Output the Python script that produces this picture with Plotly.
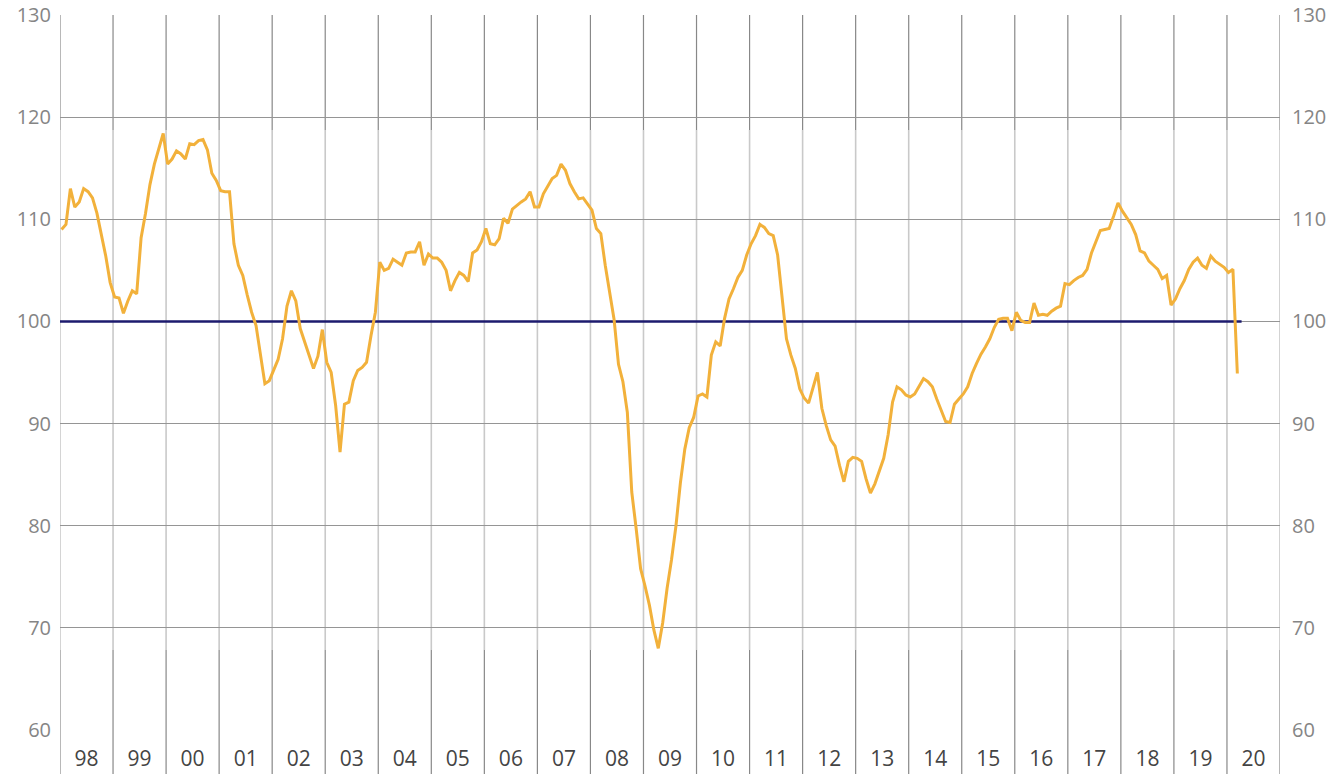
import plotly.graph_objects as go

# ---- data -------------------------------------------------------------
first_year = 1998
year_labels = ["98", "99", "00", "01", "02", "03", "04", "05", "06", "07", "08",
               "09", "10", "11", "12", "13", "14", "15", "16", "17", "18", "19", "20"]

v1998 = [109.0, 109.5, 113.0, 111.2, 111.7, 113.0, 112.7, 112.1, 110.6, 108.6, 106.4, 103.8]
v1999 = [102.4, 102.3, 100.8, 102.0, 103.0, 102.7, 108.2, 110.6, 113.4, 115.4, 116.8, 118.4]
v2000 = [115.4, 115.9, 116.7, 116.4, 115.9, 117.4, 117.3, 117.7, 117.8, 116.8, 114.5, 113.8]
v2001 = [112.8, 112.7, 112.7, 107.6, 105.5, 104.5, 102.6, 100.9, 99.6, 96.5, 93.9, 94.2]
v2002 = [95.2, 96.3, 98.3, 101.5, 103.0, 102.0, 99.3, 98.0, 96.9, 95.4, 96.6, 99.2]
v2003 = [96.0, 95.0, 91.8, 87.2, 91.9, 92.1, 94.2, 95.2, 95.5, 96.0, 98.6, 100.9]
v2004 = [105.8, 105.0, 105.2, 106.1, 105.8, 105.5, 106.7, 106.8, 106.8, 107.8, 105.5, 106.6]
v2005 = [106.2, 106.2, 105.8, 105.0, 103.0, 104.0, 104.8, 104.5, 103.9, 106.7, 107.0, 107.8]
v2006 = [109.1, 107.6, 107.5, 108.1, 110.1, 109.6, 111.0, 111.4, 111.7, 112.0, 112.7, 111.2]
v2007 = [111.2, 112.5, 113.2, 114.0, 114.3, 115.4, 114.8, 113.5, 112.7, 112.0, 112.1, 111.5]
v2008 = [110.9, 109.1, 108.6, 105.5, 103.0, 100.2, 95.8, 94.1, 91.1, 83.3, 79.7, 75.8]
v2009 = [74.1, 72.2, 69.8, 68.0, 70.5, 73.9, 76.7, 80.0, 84.2, 87.5, 89.6, 90.6]
v2010 = [92.7, 92.9, 92.6, 96.7, 98.0, 97.6, 100.3, 102.2, 103.2, 104.3, 105.0, 106.5]
v2011 = [107.6, 108.4, 109.5, 109.2, 108.6, 108.4, 106.5, 102.2, 98.3, 96.7, 95.4, 93.4]
v2012 = [92.5, 92.0, 93.5, 95.0, 91.5, 89.8, 88.4, 87.8, 85.9, 84.3, 86.3, 86.7]
v2013 = [86.6, 86.3, 84.6, 83.2, 84.1, 85.3, 86.6, 88.9, 92.1, 93.6, 93.3, 92.8]
v2014 = [92.6, 92.9, 93.7, 94.4, 94.1, 93.6, 92.4, 91.2, 90.2, 90.1, 91.9, 92.4]
v2015 = [92.9, 93.6, 94.9, 95.9, 96.8, 97.5, 98.3, 99.4, 100.2, 100.3, 100.3, 99.1]
v2016 = [100.9, 100.1, 99.9, 99.9, 101.8, 100.6, 100.7, 100.6, 101.0, 101.3, 101.5, 103.7]
v2017 = [103.6, 104.0, 104.3, 104.5, 105.1, 106.7, 107.8, 108.9, 109.0, 109.1, 110.3, 111.6]
v2018 = [110.8, 110.1, 109.5, 108.5, 106.9, 106.7, 105.9, 105.5, 105.1, 104.2, 104.5, 101.6]
v2019 = [102.2, 103.2, 104.0, 105.1, 105.8, 106.2, 105.5, 105.2, 106.4, 105.9, 105.6, 105.3]
v2020 = [104.8, 105.1, 94.9]

reference_level = 100

values = (v1998 + v1999 + v2000 + v2001 + v2002 + v2003 + v2004 + v2005 + v2006 +
          v2007 + v2008 + v2009 + v2010 + v2011 + v2012 + v2013 + v2014 + v2015 +
          v2016 + v2017 + v2018 + v2019 + v2020)

# month index -> fractional year position
x_vals = [first_year + (i + 0.35) / 12 for i in range(len(values))]
n_years = len(year_labels)
boundaries = [first_year + k for k in range(n_years + 1)]
label_pos = [first_year + k + 0.5 for k in range(n_years)]

# ---- style ------------------------------------------------------------
ORANGE = "#F2B13B"
NAVY = "#1d1b6e"
GRID = "#959595"
DARK_V = "#888888"
LIGHT_V = "#c9c9c9"

W, H = 1337, 774
ML, MR, MT, MB = 60, 57, 15, 44
plot_h = H - MT - MB

fig = go.Figure()

# reference line at 100 (drawn first, under the series)
fig.add_trace(go.Scatter(x=[boundaries[0], x_vals[-1] + 0.08],
                         y=[reference_level, reference_level], mode="lines",
                         line=dict(color=NAVY, width=2.5),
                         hoverinfo="skip", showlegend=False))
fig.add_trace(go.Scatter(x=x_vals, y=values, mode="lines",
                         line=dict(color=ORANGE, width=3),
                         hoverinfo="skip", showlegend=False))
# invisible companion trace so the right-hand axis is drawn
fig.add_trace(go.Scatter(x=x_vals, y=values, mode="lines", yaxis="y2",
                         opacity=0, hoverinfo="skip", showlegend=False))

shapes = []
top_split = (H - MB - 130) / plot_h
bot_split = (H - MB - 650) / plot_h
below = -MB / plot_h
for b in boundaries:
    shapes.append(dict(type="line", xref="x", yref="paper", x0=b, x1=b,
                       y0=top_split, y1=1, line=dict(color=DARK_V, width=1.2), layer="below"))
    shapes.append(dict(type="line", xref="x", yref="paper", x0=b, x1=b,
                       y0=bot_split, y1=top_split, line=dict(color=LIGHT_V, width=1.6), layer="below"))
    shapes.append(dict(type="line", xref="x", yref="paper", x0=b, x1=b,
                       y0=below, y1=bot_split, line=dict(color=DARK_V, width=1.2), layer="below"))

fig.update_layout(
    width=W, height=H,
    margin=dict(l=ML, r=MR, t=MT, b=MB, autoexpand=False),
    paper_bgcolor="white", plot_bgcolor="white",
    font=dict(family="Open Sans, sans-serif"),
    shapes=shapes,
    xaxis=dict(range=[boundaries[0], boundaries[-1]], showgrid=False, zeroline=False,
               tickmode="array", tickvals=label_pos, ticktext=year_labels,
               ticks="", showline=False, ticklabelstandoff=14, automargin=False,
               tickfont=dict(size=21, color="#444444", family="Open Sans")),
    yaxis=dict(range=[60, 130], dtick=10, tick0=60, showgrid=True, gridcolor=GRID,
               gridwidth=1, zeroline=False, showline=False, ticks="",
               ticklabelstandoff=8, automargin=False,
               tickfont=dict(size=20, color="#858585", family="Open Sans")),
    yaxis2=dict(range=[60, 130], dtick=10, tick0=60, overlaying="y", side="right",
                showgrid=False, zeroline=False, showline=False, ticks="",
                ticklabelstandoff=11, automargin=False,
                tickfont=dict(size=20, color="#858585", family="Open Sans")),
)

fig.write_html("out.html", config={"displayModeBar": False},
               post_script="document.body.style.margin='0';")
